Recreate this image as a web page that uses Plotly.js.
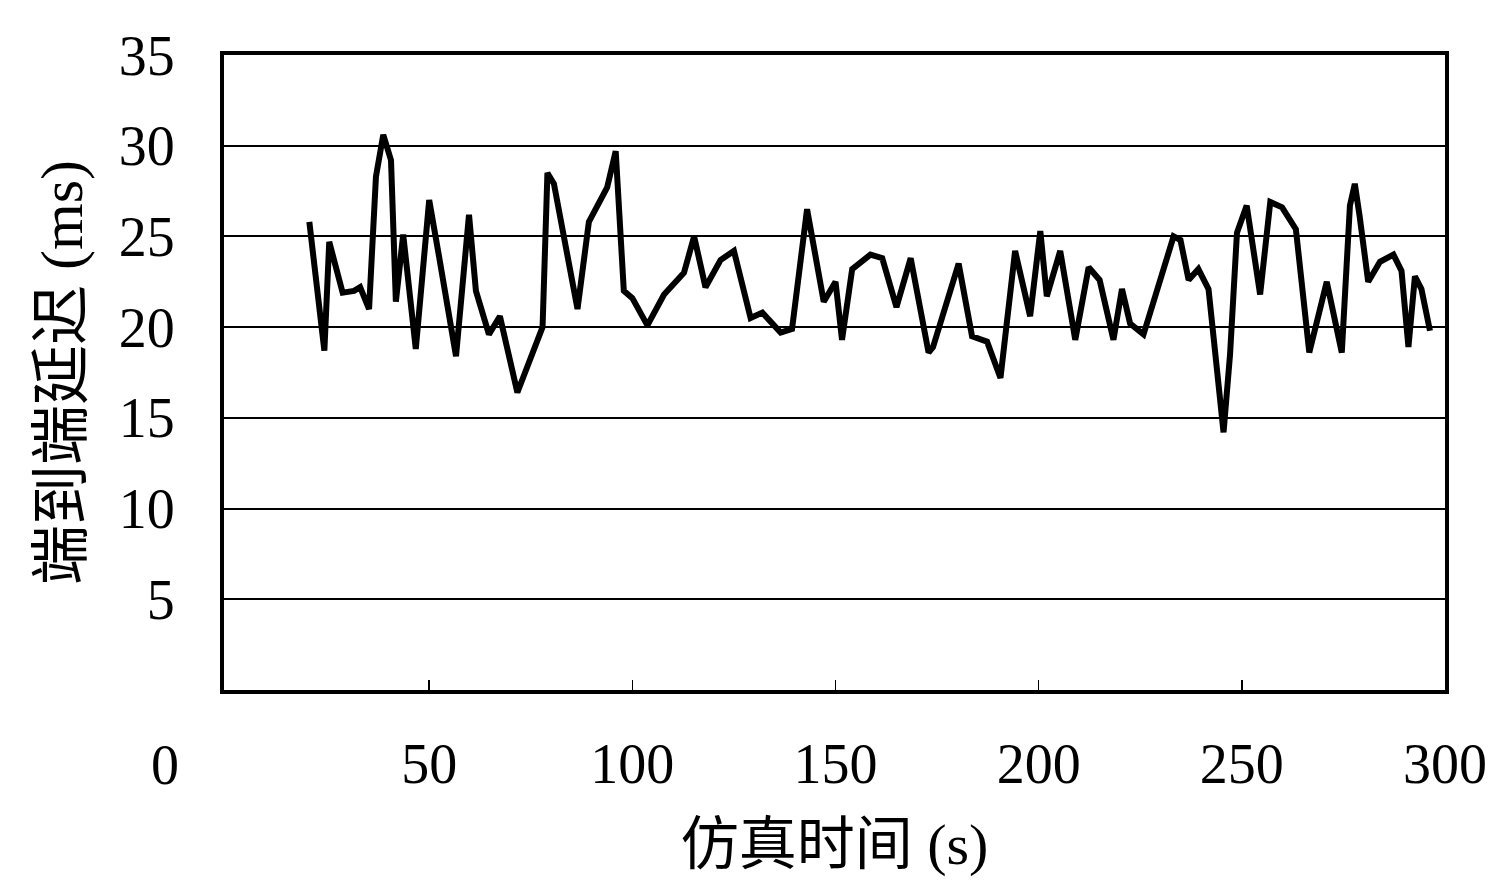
<!DOCTYPE html>
<html>
<head>
<meta charset="utf-8">
<script src="https://cdn.plot.ly/plotly-3.0.1.min.js"></script>
<style>html,body{margin:0;padding:0;background:#fff;}#chart{width:1496px;height:889px;}</style>
</head>
<body>
<div id="chart"></div>
<script>
// Simulation time (s)
const timeS = [20.5, 24.2, 25.4, 28.7, 31.5, 33.0, 35.2, 36.9, 38.7, 40.6, 41.8, 43.6, 46.7, 50.0, 52.5, 56.6, 59.8, 61.5, 64.7, 67.4,
  71.7, 77.9, 79.1, 80.7, 86.5, 89.3, 93.8, 95.9, 97.9, 100.0, 103.7, 107.8, 112.7, 115.2, 118.0, 121.7, 125.0, 129.1, 132.0, 136.5,
  139.3, 143.0, 147.1, 150.0, 151.6, 154.1, 158.6, 161.5, 165.0, 168.5, 172.9, 174.0, 180.3, 183.6, 187.3, 190.6, 194.2, 197.9, 200.4, 202.0,
  205.3, 209.0, 212.3, 215.0, 218.4, 220.5, 222.5, 225.8, 233.2, 234.9, 236.9, 239.3, 241.8, 245.5, 247.1, 248.8, 251.2, 254.5, 257.0, 259.9,
  263.3, 266.6, 270.9, 274.6, 276.6, 277.8, 279.0, 281.1, 284.0, 287.3, 289.3, 291.0, 292.6, 294.2, 296.3];
// End-to-end delay (ms)
const delayMs = [25.8, 18.7, 24.7, 21.9, 22.0, 22.2, 21.0, 28.3, 30.6, 29.2, 21.4, 25.1, 18.8, 27.0, 23.8, 18.4, 26.2, 22.0, 19.6, 20.6,
  16.4, 20.0, 28.5, 27.9, 21.0, 25.8, 27.7, 29.7, 22.0, 21.6, 20.1, 21.8, 23.0, 25.0, 22.2, 23.7, 24.2, 20.5, 20.8, 19.7,
  19.9, 26.5, 21.4, 22.5, 19.3, 23.2, 24.0, 23.8, 21.1, 23.8, 18.6, 18.9, 23.5, 19.5, 19.2, 17.2, 24.2, 20.6, 25.3, 21.7,
  24.2, 19.3, 23.3, 22.6, 19.3, 22.1, 20.2, 19.6, 25.0, 24.8, 22.6, 23.2, 22.1, 14.2, 18.5, 25.2, 26.7, 21.8, 26.9, 26.6,
  25.4, 18.6, 22.5, 18.6, 26.7, 27.9, 26.1, 22.5, 23.6, 24.0, 23.1, 18.9, 22.8, 22.1, 19.8];

const xTickVals = [50, 100, 150, 200, 250, 300];
const xTickText = ['50', '100', '150', '200', '250', '300'];
const yTickVals = [5, 10, 15, 20, 25, 30, 35];
const yTickText = ['5', '10', '15', '20', '25', '30', '35'];
const xTitle = '仿真时间 (s)';
const yTitle = '端到端延迟 (ms)';
const originLabel = '0';

const serif = '"Liberation Serif", "Noto Sans CJK SC", serif';

const trace = {
  x: timeS, y: delayMs, type: 'scatter', mode: 'lines',
  line: {color: '#000', width: 6}, showlegend: false, hoverinfo: 'skip'
};

const layout = {
  width: 1496, height: 889,
  margin: {l: 224, r: 51, t: 55, b: 199},
  paper_bgcolor: '#fff', plot_bgcolor: '#fff',
  font: {family: serif, color: '#000'},
  xaxis: {
    range: [-0.5, 300], tickvals: xTickVals, ticktext: xTickText,
    showgrid: false, zeroline: false,
    showline: true, linecolor: '#000', linewidth: 4, mirror: true,
    ticks: 'inside', ticklen: 10, tickwidth: 1.5, tickcolor: '#000',
    ticklabelstandoff: 22,
    tickfont: {family: serif, size: 56, color: '#000'},
    title: {text: xTitle, font: {family: serif, size: 58, color: '#000'}, standoff: 30},
    automargin: false
  },
  yaxis: {
    range: [0, 35], tickvals: yTickVals, ticktext: yTickText,
    showgrid: true, gridcolor: '#000', gridwidth: 2, zeroline: false,
    showline: true, linecolor: '#000', linewidth: 4, mirror: true,
    ticks: '', ticklabelstandoff: 34,
    tickfont: {family: serif, size: 56, color: '#000'},
    title: {text: yTitle, font: {family: serif, size: 60, color: '#000'}, standoff: 18},
    automargin: false
  },
  annotations: [{
    text: originLabel, xref: 'paper', yref: 'paper',
    x: -0.048, y: -0.118, xanchor: 'center', yanchor: 'middle',
    showarrow: false, font: {family: serif, size: 56, color: '#000'}
  }]
};

Plotly.newPlot('chart', [trace], layout, {displayModeBar: false, staticPlot: true});
</script>
</body>
</html>
